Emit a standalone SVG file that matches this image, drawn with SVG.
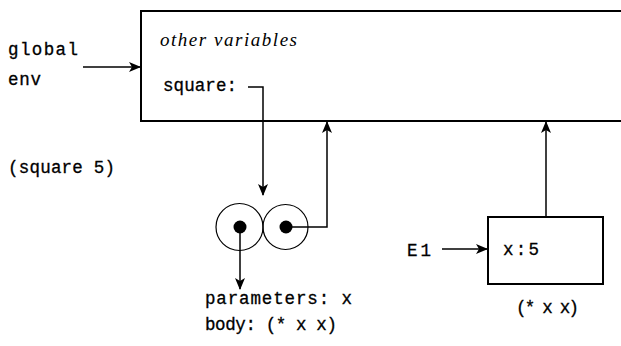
<svg xmlns="http://www.w3.org/2000/svg" width="621" height="346" viewBox="0 0 621 346">
<style>
.t{font-family:"Liberation Mono","DejaVu Sans Mono",monospace;font-size:17.5px;fill:#000;stroke:#000;stroke-width:0.3}
.it{font-family:"Liberation Serif","DejaVu Serif",serif;font-style:italic;font-size:19px;fill:#000}
.ln{fill:none;stroke:#000;stroke-width:1.5}
.box{fill:#fff;stroke:#000;stroke-width:2}
</style>
<defs>
<marker id="ah" viewBox="0 0 12 10" refX="11" refY="5" markerWidth="12" markerHeight="10" markerUnits="userSpaceOnUse" orient="auto">
<path d="M0,0 L12,5 L0,10 L3,5 Z" fill="#000"/>
</marker>
</defs>
<g id="global-frame">
<path class="box" d="M621,11 H141 V121 H621"/>
<text class="it" x="160" y="46" textLength="137">other variables</text>
<text class="t" x="163" y="91" textLength="74">square:</text>
</g>
<g id="global-label">
<text class="t" x="8" y="55" textLength="70">global</text>
<text class="t" x="8" y="85" textLength="33">env</text>
</g>
<g id="call-label">
<text class="t" x="8" y="173" textLength="107">(square 5)</text>
</g>
<g id="procedure">
<circle cx="239.5" cy="227" r="23.5" fill="none" stroke="#000" stroke-width="1.2"/>
<circle cx="285.5" cy="227" r="22.5" fill="none" stroke="#000" stroke-width="1.2"/>
<circle cx="240" cy="227" r="6.5" fill="#000"/>
<circle cx="286" cy="227" r="6.5" fill="#000"/>
<text class="t" x="205" y="304" textLength="147">parameters: x</text>
<text class="t" x="205" y="330" textLength="132">body: (* x x)</text>
</g>
<g id="E1-frame">
<rect class="box" x="488" y="217" width="115" height="67"/>
<text class="t" x="503" y="255" textLength="36">x:5</text>
</g>
<g id="E1-label">
<text class="t" x="407" y="256" textLength="24">E1</text>
</g>
<g id="body-label">
<text class="t" x="516" y="313" textLength="63">(* x x)</text>
</g>
<g id="connectors">
<line class="ln" x1="83" y1="67" x2="140" y2="67" marker-end="url(#ah)"/>
<polyline class="ln" points="248,87 263,87 263,195" marker-end="url(#ah)"/>
<polyline class="ln" points="240,227 240,289" marker-end="url(#ah)"/>
<polyline class="ln" points="286,227 327,227 327,122" marker-end="url(#ah)"/>
<line class="ln" x1="442" y1="249" x2="487" y2="249" marker-end="url(#ah)"/>
<line class="ln" x1="546" y1="217" x2="546" y2="122" marker-end="url(#ah)"/>
</g>
</svg>
